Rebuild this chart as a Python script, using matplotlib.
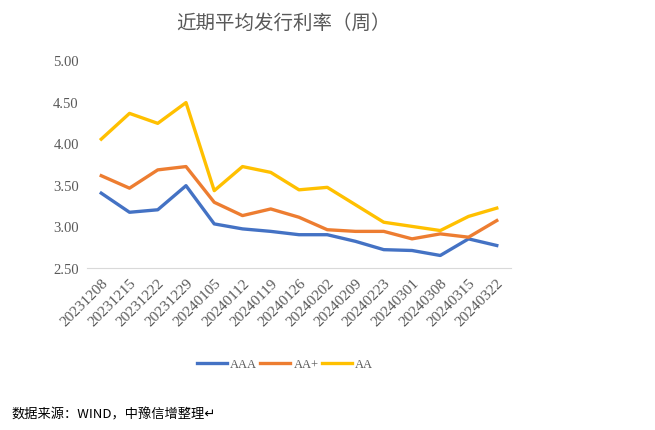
import matplotlib
matplotlib.use('Agg')
import matplotlib.pyplot as plt

plt.rcParams['font.family'] = ['Noto Sans CJK SC', 'DejaVu Sans']

dates = ['20231208', '20231215', '20231222', '20231229', '20240105', '20240112',
         '20240119', '20240126', '20240202', '20240209', '20240223', '20240301',
         '20240308', '20240315', '20240322']
aaa = [3.40, 3.17, 3.20, 3.49, 3.03, 2.97, 2.94, 2.90, 2.90, 2.82, 2.72, 2.71, 2.65, 2.85, 2.77]
aa_plus = [3.61, 3.46, 3.68, 3.72, 3.29, 3.13, 3.21, 3.11, 2.96, 2.94, 2.94, 2.85, 2.91, 2.87, 3.07]
aa = [4.05, 4.36, 4.24, 4.49, 3.43, 3.72, 3.65, 3.44, 3.47, 3.26, 3.05, 3.00, 2.95, 3.12, 3.22]
y_ticks = [2.5, 3.0, 3.5, 4.0, 4.5, 5.0]

grey = '#595959'

fig = plt.figure(figsize=(6.55, 4.31), dpi=100)
ax = fig.add_axes([0.133, 0.376, 0.647, 0.482])

x = range(len(dates))
ax.plot(x, aaa, color='#4472C4', lw=2.4, label='AAA')
ax.plot(x, aa_plus, color='#ED7D31', lw=2.4, label='AA+')
ax.plot(x, aa, color='#FFC000', lw=2.4, label='AA')

ax.set_xlim(-0.5, len(dates) - 0.5)
ax.set_ylim(2.5, 5.0)
ax.set_yticks(y_ticks)
ax.set_yticklabels([f'{v:.2f}' for v in y_ticks], family='Liberation Serif', fontsize=10.5, color=grey)
ax.set_xticks(list(x))
ax.set_xticklabels(dates, rotation=45, ha='right', rotation_mode='anchor',
                   family='Liberation Serif', fontsize=11, color=grey)

for s in ['top', 'right', 'left']:
	ax.spines[s].set_visible(False)
ax.spines['bottom'].set_color('#d9d9d9')
ax.tick_params(axis='both', length=0, pad=6)

fig.text(0.433, 0.945, '近期平均发行利率（周）', ha='center', va='center', fontsize=14, color=grey)

fig.legend(loc='center', bbox_to_anchor=(0.435, 0.153), ncol=3, frameon=False,
           handlelength=2.4, handletextpad=0.25, columnspacing=0.25,
           prop={'family': 'Liberation Serif', 'size': 9}, labelcolor=grey)

fig.text(0.018, 0.038, '数据来源：WIND，中豫信增整理↵', ha='left', va='center', fontsize=9.5, color='black')

fig.savefig('out.png', dpi=100)
